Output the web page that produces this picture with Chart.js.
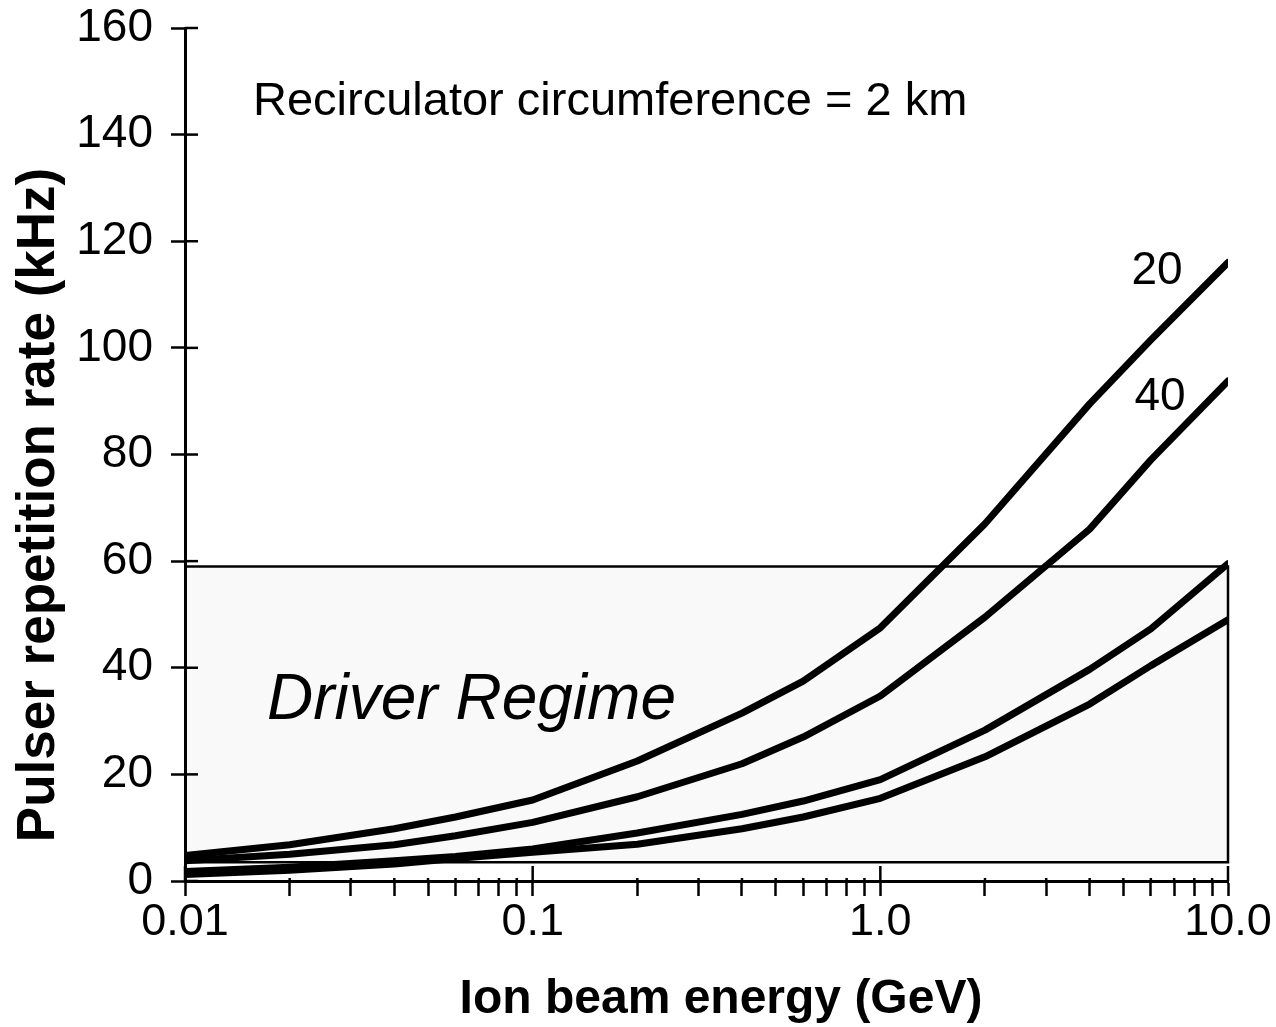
<!DOCTYPE html>
<html>
<head>
<meta charset="utf-8">
<script src="https://cdn.jsdelivr.net/npm/chart.js@4.4.1/dist/chart.umd.min.js"></script>
<style>
html, body { margin: 0; padding: 0; background: #fff; }
#wrap { width: 1276px; height: 1027px; position: relative; }
</style>
</head>
<body>
<div id="wrap"><canvas id="chart"></canvas></div>
<script>
// ion beam energy (GeV) and pulser rate (kHz) for the four curves
var energy = [0.01, 0.02, 0.04, 0.06, 0.1, 0.2, 0.4, 0.6, 1, 2, 4, 6, 10];
var rate20 = [4.8, 6.8, 9.8, 12.0, 15.2, 22.5, 31.5, 37.5, 47.5, 67, 89.5, 101.5, 116];
var rate40 = [3.8, 5.0, 6.8, 8.5, 11.0, 15.8, 22.0, 27.0, 34.7, 49.5, 66, 79, 93.8];
var rateLow1 = [1.8, 2.6, 3.8, 4.6, 6.0, 9.0, 12.5, 15.0, 19.0, 28.3, 39.7, 47.3, 59.5];
var rateLow2 = [1.2, 2.0, 3.2, 4.2, 5.4, 6.9, 9.8, 12.0, 15.5, 23.3, 33.2, 40.4, 49];
var curveLabels = ['20', '40'];

var xMajor = [0.01, 0.1, 1, 10];
var xTickLabels = ['0.01', '0.1', '1.0', '10.0'];
var yTicks = [0, 20, 40, 60, 80, 100, 120, 140, 160];

// driver regime box
var regimeEnergy = [0.01, 10];
var regimeRate = [3.5, 59];

var FONT = "'Liberation Sans', Arial, sans-serif";

function pts(ys) {
    return energy.map(function(e, i) { return { x: e, y: ys[i] }; });
}

// minor ticks 2..9 in every decade
var xTickValues = [];
xMajor.forEach(function(d, i) {
    xTickValues.push(d);
    if (i < xMajor.length - 1) {
        for (var k = 2; k <= 9; k++) xTickValues.push(+(k * d).toPrecision(3));
    }
});

var decor = {
    id: 'decor',
    beforeDraw: function(chart) {
        var ctx = chart.ctx, x = chart.scales.x, y = chart.scales.y;
        var l = x.getPixelForValue(regimeEnergy[0]), r = x.getPixelForValue(regimeEnergy[1]);
        var t = y.getPixelForValue(regimeRate[1]), b = y.getPixelForValue(regimeRate[0]);
        ctx.save();
        ctx.fillStyle = '#f9f9f9';
        ctx.fillRect(l, t, r - l, b - t);
        ctx.strokeStyle = '#000';
        ctx.lineWidth = 2.5;
        ctx.beginPath();
        ctx.moveTo(l, t); ctx.lineTo(r, t); ctx.lineTo(r, b); ctx.lineTo(l, b);
        ctx.stroke();
        ctx.restore();
    },
    afterDraw: function(chart) {
        var ctx = chart.ctx, x = chart.scales.x, y = chart.scales.y, a = chart.chartArea;
        ctx.save();
        ctx.strokeStyle = '#000';
        ctx.lineWidth = 2.5;
        // inner halves of the crossing ticks
        yTicks.forEach(function(v) {
            var py = y.getPixelForValue(v);
            ctx.beginPath(); ctx.moveTo(a.left, py); ctx.lineTo(a.left + 13, py); ctx.stroke();
        });
        xTickValues.forEach(function(v) {
            var px = x.getPixelForValue(v);
            var len = xMajor.indexOf(v) >= 0 ? 15 : 3;
            ctx.beginPath(); ctx.moveTo(px, a.bottom); ctx.lineTo(px, a.bottom - len); ctx.stroke();
        });

        ctx.fillStyle = '#000';
        ctx.textBaseline = 'alphabetic';
        ctx.textAlign = 'left';
        ctx.font = '47px ' + FONT;
        ctx.fillText('Recirculator circumference = 2 km', a.left + 68, 115);

        ctx.font = 'italic 64px ' + FONT;
        ctx.fillText('Driver Regime', a.left + 82, 719);

        // curve labels near the line ends
        ctx.font = '46px ' + FONT;
        ctx.textAlign = 'center';
        var ex = x.getPixelForValue(energy[energy.length - 1]);
        ctx.fillText(curveLabels[0], ex - 71, y.getPixelForValue(rate20[rate20.length - 1]) + 21);
        ctx.fillText(curveLabels[1], ex - 68, y.getPixelForValue(rate40[rate40.length - 1]) + 29);

        // axis titles
        ctx.font = 'bold 48px ' + FONT;
        ctx.fillText('Ion beam energy (GeV)', 721, 1013);
        ctx.translate(54, 505);
        ctx.rotate(-Math.PI / 2);
        ctx.font = 'bold 53px ' + FONT;
        ctx.fillText('Pulser repetition rate (kHz)', 0, 0);
        ctx.restore();
    }
};

function curve(ys) {
    return {
        data: pts(ys),
        borderColor: '#000',
        borderWidth: 7,
        pointRadius: 0,
        tension: 0,
        borderCapStyle: 'round',
        borderJoinStyle: 'round',
        fill: false
    };
}

var ctx = document.getElementById('chart').getContext('2d');
new Chart(ctx, {
    type: 'line',
    data: {
        datasets: [curve(rate20), curve(rate40), curve(rateLow1), curve(rateLow2)]
    },
    options: {
        responsive: true,
        maintainAspectRatio: false,
        animation: false,
        layout: { padding: { left: 0, right: 48, top: 28, bottom: 0 } },
        plugins: { legend: { display: false }, tooltip: { enabled: false } },
        scales: {
            x: {
                type: 'logarithmic',
                min: 0.01,
                max: 10,
                afterBuildTicks: function(scale) {
                    scale.ticks = xTickValues.map(function(v) { return { value: v, major: xMajor.indexOf(v) >= 0 }; });
                },
                afterFit: function(scale) { scale.height = 146; },
                border: { display: true, color: '#000', width: 3 },
                grid: { display: true, drawOnChartArea: false, drawTicks: true, tickLength: 15, tickWidth: 2.5, tickColor: '#000' },
                ticks: {
                    autoSkip: false,
                    maxRotation: 0,
                    padding: 0,
                    color: '#000',
                    font: { family: FONT, size: 45 },
                    callback: function(v) {
                        var i = xMajor.indexOf(v);
                        return i >= 0 ? xTickLabels[i] : '';
                    }
                }
            },
            y: {
                min: 0,
                max: 160,
                afterBuildTicks: function(scale) {
                    scale.ticks = yTicks.map(function(v) { return { value: v }; });
                },
                afterFit: function(scale) {
                    scale.width = 185;
                    scale.paddingTop = 0;
                    scale.paddingBottom = 0;
                },
                border: { display: true, color: '#000', width: 3 },
                grid: { display: true, drawOnChartArea: false, drawTicks: true, tickLength: 14, tickWidth: 2.5, tickColor: '#000' },
                ticks: {
                    padding: 18,
                    color: '#000',
                    font: { family: FONT, size: 46, lineHeight: 0.2 }
                }
            }
        }
    },
    plugins: [decor]
});
</script>
</body>
</html>
